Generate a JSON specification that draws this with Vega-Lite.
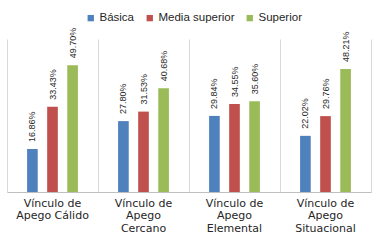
{
  "$schema": "https://vega.github.io/schema/vega-lite/v6.json",
  "width": 364,
  "height": 153,
  "autosize": "none",
  "padding": {"left": 7, "top": 39, "right": 10, "bottom": 49},
  "background": "white",
  "datasets": {
    "bars": [
      {"cat": "Vínculo de Apego Cálido", "nivel": "Básica", "v": 0.1686},
      {"cat": "Vínculo de Apego Cálido", "nivel": "Media superior", "v": 0.3343},
      {"cat": "Vínculo de Apego Cálido", "nivel": "Superior", "v": 0.4970},
      {"cat": "Vínculo de Apego Cercano", "nivel": "Básica", "v": 0.2780},
      {"cat": "Vínculo de Apego Cercano", "nivel": "Media superior", "v": 0.3153},
      {"cat": "Vínculo de Apego Cercano", "nivel": "Superior", "v": 0.4068},
      {"cat": "Vínculo de Apego Elemental", "nivel": "Básica", "v": 0.2984},
      {"cat": "Vínculo de Apego Elemental", "nivel": "Media superior", "v": 0.3455},
      {"cat": "Vínculo de Apego Elemental", "nivel": "Superior", "v": 0.3560},
      {"cat": "Vínculo de Apego Situacional", "nivel": "Básica", "v": 0.2202},
      {"cat": "Vínculo de Apego Situacional", "nivel": "Media superior", "v": 0.2976},
      {"cat": "Vínculo de Apego Situacional", "nivel": "Superior", "v": 0.4821}
    ],
    "cats": [
      {"cat": "Vínculo de Apego Cálido", "l1": "Vínculo de", "l2": "Apego Cálido", "l3": ""},
      {"cat": "Vínculo de Apego Cercano", "l1": "Vínculo de", "l2": "Apego", "l3": "Cercano"},
      {"cat": "Vínculo de Apego Elemental", "l1": "Vínculo de", "l2": "Apego", "l3": "Elemental"},
      {"cat": "Vínculo de Apego Situacional", "l1": "Vínculo de", "l2": "Apego", "l3": "Situacional"}
    ]
  },
  "layer": [
    {
      "data": {"name": "bars"},
      "mark": {"type": "bar"},
      "encoding": {
        "x": {
          "field": "cat",
          "type": "nominal",
          "sort": null,
          "scale": {"paddingInner": 0, "paddingOuter": 0},
          "axis": {
            "title": null,
            "labels": false,
            "grid": true,
            "gridColor": "#d9d9d9",
            "tickBand": "extent",
            "ticks": false,
            "domainColor": "#bfbfbf"
          }
        },
        "xOffset": {
          "field": "nivel",
          "type": "nominal",
          "sort": ["Básica", "Media superior", "Superior"],
          "scale": {"paddingInner": 0.47, "paddingOuter": 1.13}
        },
        "y": {
          "field": "v",
          "type": "quantitative",
          "scale": {"domain": [0, 0.6], "nice": false},
          "axis": null
        },
        "color": {
          "field": "nivel",
          "type": "nominal",
          "scale": {
            "domain": ["Básica", "Media superior", "Superior"],
            "range": ["#4f81bd", "#c0504d", "#9bbb59"]
          },
          "legend": {
            "title": null,
            "orient": "none",
            "direction": "horizontal",
            "legendX": 78,
            "legendY": -27,
            "symbolType": "square",
            "symbolSize": 40,
            "symbolStrokeWidth": 0,
            "labelFont": "Liberation Sans",
            "labelFontSize": 11.5,
            "labelColor": "#262626",
            "labelOffset": 3,
            "columnPadding": 9
          }
        }
      }
    },
    {
      "data": {"name": "bars"},
      "mark": {
        "type": "text",
        "angle": 270,
        "align": "left",
        "baseline": "middle",
        "dx": 7,
        "font": "Liberation Sans",
        "fontSize": 9,
        "color": "#262626"
      },
      "encoding": {
        "x": {"field": "cat", "type": "nominal", "sort": null},
        "xOffset": {"field": "nivel", "type": "nominal", "sort": ["Básica", "Media superior", "Superior"]},
        "y": {"field": "v", "type": "quantitative"},
        "text": {"field": "v", "type": "quantitative", "format": ".2%"}
      }
    },
    {
      "data": {"name": "cats"},
      "mark": {"type": "text", "baseline": "middle", "dy": 12, "font": "DejaVu Sans", "fontSize": 11, "color": "#262626", "clip": false},
      "encoding": {
        "x": {"field": "cat", "type": "nominal", "sort": null},
        "y": {"datum": 0},
        "text": {"field": "l1"}
      }
    },
    {
      "data": {"name": "cats"},
      "mark": {"type": "text", "baseline": "middle", "dy": 24, "font": "DejaVu Sans", "fontSize": 11, "color": "#262626", "clip": false},
      "encoding": {
        "x": {"field": "cat", "type": "nominal", "sort": null},
        "y": {"datum": 0},
        "text": {"field": "l2"}
      }
    },
    {
      "data": {"name": "cats"},
      "mark": {"type": "text", "baseline": "middle", "dy": 36.5, "font": "DejaVu Sans", "fontSize": 11, "color": "#262626", "clip": false},
      "encoding": {
        "x": {"field": "cat", "type": "nominal", "sort": null},
        "y": {"datum": 0},
        "text": {"field": "l3"}
      }
    }
  ],
  "config": {"view": {"stroke": null}}
}
